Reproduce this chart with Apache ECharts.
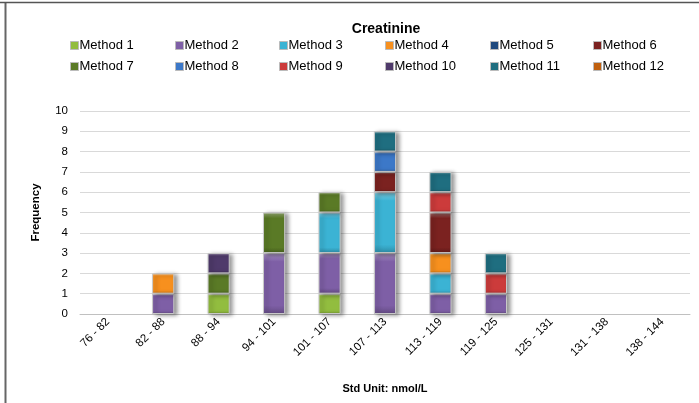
<!DOCTYPE html>
<html>
<head>
<meta charset="utf-8">
<script src="https://cdn.jsdelivr.net/npm/echarts@6/dist/echarts.min.js"></script>
<style>
html,body{margin:0;padding:0;background:#fff;}
#chart{width:699px;height:403px;}
</style>
</head>
<body>
<div id="chart"></div>
<script>
const categories = ['76 - 82','82 - 88','88 - 94','94 - 101','101 - 107','107 - 113','113 - 119','119 - 125','125 - 131','131 - 138','138 - 144'];
const seriesNames = ['Method 1','Method 2','Method 3','Method 4','Method 5','Method 6','Method 7','Method 8','Method 9','Method 10','Method 11','Method 12'];
const method1  = [0,0,1,0,1,0,0,0,0,0,0];
const method2  = [0,1,0,3,2,3,1,1,0,0,0];
const method3  = [0,0,0,0,2,3,1,0,0,0,0];
const method4  = [0,1,0,0,0,0,1,0,0,0,0];
const method5  = [0,0,0,0,0,0,0,0,0,0,0];
const method6  = [0,0,0,0,0,1,2,0,0,0,0];
const method7  = [0,0,1,2,1,0,0,0,0,0,0];
const method8  = [0,0,0,0,0,1,0,0,0,0,0];
const method9  = [0,0,0,0,0,0,1,1,0,0,0];
const method10 = [0,0,1,0,0,0,0,0,0,0,0];
const method11 = [0,0,0,0,0,1,1,1,0,0,0];
const method12 = [0,0,0,0,0,0,0,0,0,0,0];
const yTicks = [0,1,2,3,4,5,6,7,8,9,10];

const allValues = [method1,method2,method3,method4,method5,method6,method7,method8,method9,method10,method11,method12];
const colors = ['#92BD3F','#7E5FA6','#3BB3D4','#F7901E','#1F497D','#7B2220','#5A7A26','#3C78C8','#CC3B3B','#4F3A6B','#1F6E80','#C0600F'];

function shade(hex, f){
  const n = parseInt(hex.slice(1),16);
  let r=(n>>16)&255,g=(n>>8)&255,b=n&255;
  if(f>0){r=r+(255-r)*f;g=g+(255-g)*f;b=b+(255-b)*f;}
  else {r=r*(1+f);g=g*(1+f);b=b*(1+f);}
  return 'rgb('+Math.round(r)+','+Math.round(g)+','+Math.round(b)+')';
}
function grad(c){
  return new echarts.graphic.LinearGradient(0,0,0,1,[
    {offset:0,color:shade(c,0.35)},
    {offset:0.14,color:c},
    {offset:0.86,color:c},
    {offset:1,color:shade(c,-0.2)}
  ]);
}

const series = seriesNames.map((name,i)=>({
  name:name,
  type:'bar',
  stack:'total',
  barWidth:'40%',
  data:allValues[i].map(v=>v===0?'-':v),
  itemStyle:{
    color:grad(colors[i]),
    borderColor:'#c8c8c8',
    borderWidth:1,
    shadowColor:'rgba(0,0,0,0.4)',
    shadowBlur:4,
    shadowOffsetX:3,
    shadowOffsetY:1
  }
}));

const legendLeft = [70,175,279,385,490,593];
const legendTop = [39,60];
const legends = seriesNames.map((name,i)=>({
  data:[{name:name, icon:'rect', itemStyle:{color:colors[i], borderColor:'#bbb', borderWidth:1}}],
  left:legendLeft[i%6],
  top:legendTop[Math.floor(i/6)],
  padding:0,
  itemWidth:8,
  itemHeight:8,
  selectedMode:false,
  textStyle:{fontFamily:'Liberation Sans',fontSize:13,color:'#000',padding:[0,0,0,-4]}
}));

const chart = echarts.init(document.getElementById('chart'),null,{renderer:'canvas'});
chart.setOption({
  animation:false,
  backgroundColor:'#fff',
  title:{
    text:'Creatinine',
    left:381,
    top:17,
    textAlign:'center',
    textStyle:{fontFamily:'Liberation Sans',fontSize:14,fontWeight:'bold',color:'#000'}
  },
  legend:legends,
  grid:{left:80,right:9,top:111,bottom:89,containLabel:false},
  xAxis:{
    type:'category',
    data:categories,
    name:'Std Unit: nmol/L',
    nameLocation:'middle',
    nameGap:69,
    nameTextStyle:{fontFamily:'Liberation Sans',fontSize:11,fontWeight:'bold',color:'#000'},
    axisLine:{lineStyle:{color:'#c0c0c0',width:1}},
    axisTick:{show:false},
    axisLabel:{rotate:45,fontFamily:'Liberation Sans',fontSize:11.5,color:'#000',margin:6,interval:0}
  },
  yAxis:{
    type:'value',
    min:yTicks[0],
    max:yTicks[yTicks.length-1],
    interval:1,
    name:'Frequency',
    nameLocation:'middle',
    nameGap:38,
    nameRotate:90,
    nameTextStyle:{fontFamily:'Liberation Sans',fontSize:11.5,fontWeight:'bold',color:'#000'},
    axisLine:{show:false},
    axisTick:{show:false},
    axisLabel:{fontFamily:'Liberation Sans',fontSize:11.5,color:'#000',margin:12},
    splitLine:{lineStyle:{color:'#d9d9d9',width:1}}
  },
  graphic:[
    {type:'line',shape:{x1:5.5,y1:2,x2:5.5,y2:403},style:{stroke:'#666',lineWidth:2},silent:true},
    {type:'line',shape:{x1:0,y1:2.5,x2:699,y2:2.5},style:{stroke:'#555',lineWidth:1.5},silent:true}
  ],
  series:series
});
</script>
</body>
</html>
